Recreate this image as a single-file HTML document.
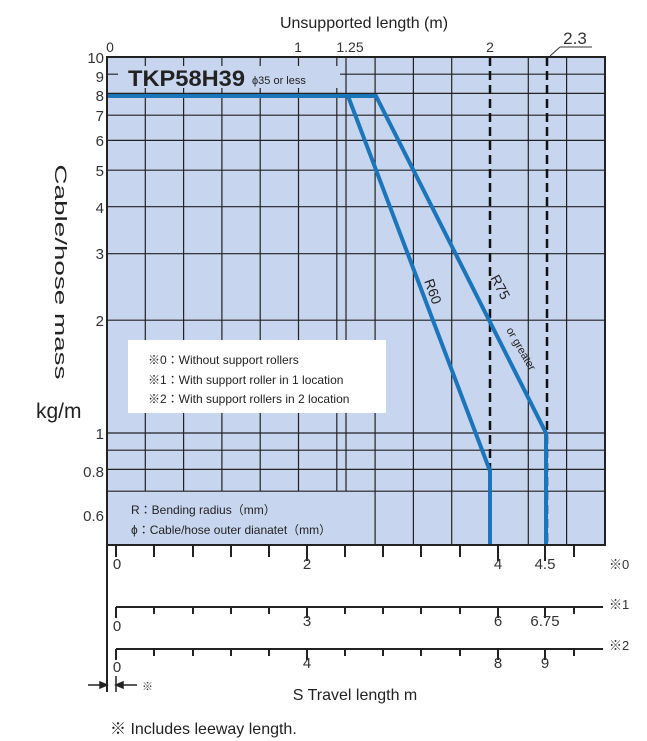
<!DOCTYPE html>
<html><head><meta charset="utf-8"><style>
body{margin:0;background:#fff;}
svg{display:block;font-family:"Liberation Sans","Noto Sans CJK JP",sans-serif;}
</style></head><body>
<svg width="647" height="741" viewBox="0 0 647 741" xmlns="http://www.w3.org/2000/svg">
<text x="364" y="28" font-size="16" text-anchor="middle" fill="#222">Unsupported length (m)</text>
<g font-size="14" fill="#333" text-anchor="middle">
<text x="110" y="52">0</text><text x="298" y="52">1</text><text x="350" y="52">1.25</text><text x="490" y="52">2</text>
</g>
<text x="575" y="44" font-size="17" fill="#333" text-anchor="middle">2.3</text>
<line x1="560" y1="47" x2="592" y2="47" stroke="#333" stroke-width="1"/>
<line x1="560" y1="47" x2="550" y2="56" stroke="#333" stroke-width="1"/>
<rect x="107" y="57" width="498" height="488" fill="#c8d5ee"/>
<g stroke="#222" stroke-width="1.2">
<line x1="107" x2="605" y1="74.2" y2="74.2"/>
<line x1="107" x2="605" y1="93.4" y2="93.4"/>
<line x1="107" x2="605" y1="115.2" y2="115.2"/>
<line x1="107" x2="605" y1="140.4" y2="140.4"/>
<line x1="107" x2="605" y1="170.2" y2="170.2"/>
<line x1="107" x2="605" y1="206.7" y2="206.7"/>
<line x1="107" x2="605" y1="253.7" y2="253.7"/>
<line x1="107" x2="605" y1="320.2" y2="320.2"/>
<line x1="107" x2="605" y1="433" y2="433"/>
<line x1="107" x2="605" y1="450.2" y2="450.2"/>
<line x1="107" x2="605" y1="469.4" y2="469.4"/>
<line x1="107" x2="605" y1="491.2" y2="491.2"/>
</g>
<g stroke="#222" stroke-width="1.2">
<line x1="145.3" x2="145.3" y1="57" y2="491"/>
<line x1="183.6" x2="183.6" y1="57" y2="491"/>
<line x1="221.9" x2="221.9" y1="57" y2="491"/>
<line x1="260.2" x2="260.2" y1="57" y2="491"/>
<line x1="298.5" x2="298.5" y1="57" y2="491"/>
<line x1="336.8" x2="336.8" y1="57" y2="491"/>
<line x1="346" x2="346" y1="57" y2="491"/>
<line x1="375.1" x2="375.1" y1="57" y2="545"/>
<line x1="413.4" x2="413.4" y1="57" y2="545"/>
<line x1="451.7" x2="451.7" y1="57" y2="545"/>
<line x1="528.3" x2="528.3" y1="57" y2="545"/>
<line x1="566.6" x2="566.6" y1="57" y2="545"/>
</g>
<rect x="118" y="66" width="222" height="22" fill="#c8d5ee"/>
<text x="128" y="86" font-size="22" font-weight="bold" fill="#222" textLength="117" lengthAdjust="spacingAndGlyphs">TKP58H39</text>
<text x="252" y="84" font-size="11" fill="#222">ϕ35 or less</text>
<g stroke="#111" stroke-width="2.5" stroke-dasharray="9,5">
<line x1="490" x2="490" y1="57" y2="545"/>
<line x1="547" x2="547" y1="57" y2="545"/>
</g>
<g fill="none" stroke="#1b75bb" stroke-width="4">
<polyline points="107,96 348,96 490,471 490,545"/>
<polyline points="348,96 376,96 546,433 546,545"/>
</g>
<rect x="107" y="57" width="498" height="488" fill="none" stroke="#222" stroke-width="2"/>
<text font-size="14" fill="#222" transform="translate(424,281) rotate(70)">R60</text>
<text font-size="14" fill="#222" transform="translate(490,278) rotate(62)">R75</text>
<text font-size="11" fill="#222" transform="translate(506,330) rotate(60)">or greater</text>
<rect x="128" y="340" width="258" height="73" fill="#fff"/>
<g font-size="12" fill="#222">
<text x="148" y="364">※0：Without support rollers</text>
<text x="148" y="384">※1：With support roller in 1 location</text>
<text x="148" y="403">※2：With support rollers in 2 location</text>
<text x="131" y="514">R：Bending radius（mm）</text>
<text x="131" y="534">ϕ：Cable/hose outer dianatet（mm）</text>
</g>
<g font-size="15" fill="#333" text-anchor="end">
<text x="104" y="63">10</text><text x="104" y="82">9</text><text x="104" y="101">8</text><text x="104" y="121">7</text>
<text x="104" y="146">6</text><text x="104" y="176">5</text><text x="104" y="213">4</text><text x="104" y="259">3</text>
<text x="104" y="326">2</text><text x="104" y="439">1</text><text x="104" y="477">0.8</text><text x="104" y="521">0.6</text>
</g>
<text font-size="17" fill="#222" transform="translate(55,272) rotate(90)" text-anchor="middle" textLength="215" lengthAdjust="spacingAndGlyphs">Cable/hose mass</text>
<text x="36" y="418" font-size="21" fill="#222">kg/m</text>
<line x1="107" y1="545" x2="107" y2="692" stroke="#222" stroke-width="2"/>
<g stroke="#222" stroke-width="2">
<line x1="116" y1="546" x2="116" y2="557"/><line x1="154" y1="546" x2="154" y2="557"/><line x1="193" y1="546" x2="193" y2="557"/><line x1="231" y1="546" x2="231" y2="557"/><line x1="269" y1="546" x2="269" y2="557"/><line x1="307" y1="546" x2="307" y2="561"/><line x1="345" y1="546" x2="345" y2="557"/><line x1="383" y1="546" x2="383" y2="557"/><line x1="421" y1="546" x2="421" y2="557"/><line x1="460" y1="546" x2="460" y2="557"/><line x1="498" y1="546" x2="498" y2="561"/><line x1="545" y1="546" x2="545" y2="561"/><line x1="574" y1="546" x2="574" y2="557"/>
<line x1="116" y1="607" x2="603" y2="607"/>
<line x1="116" y1="607" x2="116" y2="618"/><line x1="154" y1="607" x2="154" y2="614"/><line x1="193" y1="607" x2="193" y2="614"/><line x1="231" y1="607" x2="231" y2="614"/><line x1="269" y1="607" x2="269" y2="614"/><line x1="307" y1="607" x2="307" y2="618"/><line x1="345" y1="607" x2="345" y2="614"/><line x1="383" y1="607" x2="383" y2="614"/><line x1="421" y1="607" x2="421" y2="614"/><line x1="460" y1="607" x2="460" y2="614"/><line x1="498" y1="607" x2="498" y2="618"/><line x1="545" y1="607" x2="545" y2="618"/><line x1="574" y1="607" x2="574" y2="614"/>
<line x1="116" y1="649" x2="603" y2="649"/>
<line x1="116" y1="649" x2="116" y2="660"/><line x1="154" y1="649" x2="154" y2="656"/><line x1="193" y1="649" x2="193" y2="656"/><line x1="231" y1="649" x2="231" y2="656"/><line x1="269" y1="649" x2="269" y2="656"/><line x1="307" y1="649" x2="307" y2="660"/><line x1="345" y1="649" x2="345" y2="656"/><line x1="383" y1="649" x2="383" y2="656"/><line x1="421" y1="649" x2="421" y2="656"/><line x1="460" y1="649" x2="460" y2="656"/><line x1="498" y1="649" x2="498" y2="660"/><line x1="545" y1="649" x2="545" y2="660"/><line x1="574" y1="649" x2="574" y2="656"/>
</g>
<g font-size="15" fill="#333" text-anchor="middle">
<text x="117" y="569">0</text><text x="307" y="569">2</text><text x="498" y="569">4</text><text x="545" y="569">4.5</text>
<text x="117" y="631">0</text><text x="307" y="626">3</text><text x="498" y="626">6</text><text x="545" y="626">6.75</text>
<text x="117" y="672">0</text><text x="307" y="668">4</text><text x="498" y="668">8</text><text x="545" y="668">9</text>
</g>
<g font-size="13" fill="#333">
<text x="609" y="569">※0</text><text x="609" y="609">※1</text><text x="609" y="650">※2</text>
</g>
<g stroke="#222" stroke-width="1.5" fill="#222">
<line x1="88" y1="685" x2="107" y2="685"/><line x1="116" y1="685" x2="137" y2="685"/>
<line x1="116" y1="676" x2="116" y2="692"/>
<polygon points="107,685 100,682 100,688"/><polygon points="116,685 123,682 123,688"/>
</g>
<text x="142" y="690" font-size="11" fill="#333">※</text>
<text x="355" y="700" font-size="16" fill="#222" text-anchor="middle">S  Travel length  m</text>
<text x="110" y="734" font-size="16" fill="#222">※ Includes leeway length.</text>
</svg>
</body></html>
